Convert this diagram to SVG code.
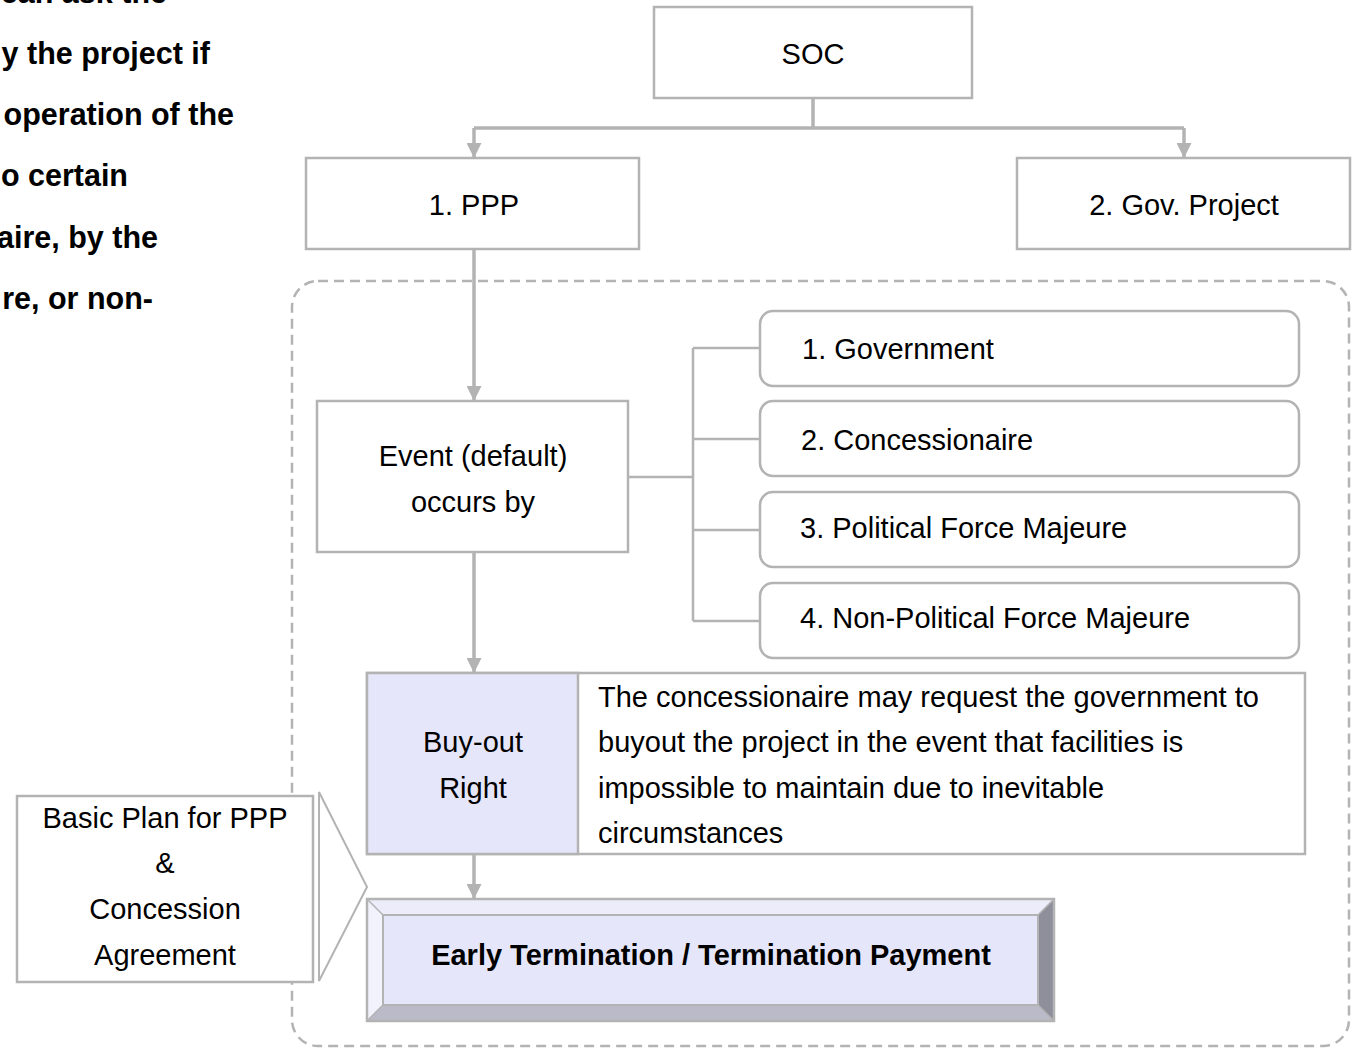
<svg xmlns="http://www.w3.org/2000/svg" width="1357" height="1049" viewBox="0 0 1357 1049">
<defs>
<style>
.t{font-family:"Liberation Sans",Arial,sans-serif;font-size:29px;fill:#000}
.c{text-anchor:middle}
.b{font-weight:bold}
.e{text-anchor:end}
.i{font-size:30.5px}
.box{fill:#fff;stroke:#b3b3b3;stroke-width:2.5}
.rbox{fill:#fff;stroke:#b3b3b3;stroke-width:2.5}
.ln{fill:none;stroke:#b3b3b3;stroke-width:3.5}
.br{fill:none;stroke:#b3b3b3;stroke-width:2.5}
</style>
<marker id="ah" markerUnits="userSpaceOnUse" viewBox="0 0 15 15" markerWidth="15" markerHeight="15" refX="15" refY="7.5" orient="auto">
<path d="M0,0 L15,7.5 L0,15 z" fill="#b3b3b3"/>
</marker>
</defs>
<rect width="1357" height="1049" fill="#fff"/>

<g id="intro-text">
<text class="t b e i" x="167" y="3">can ask the</text>
<text class="t b e i" x="210" y="64">y the project if</text>
<text class="t b e i" x="234" y="125">operation of the</text>
<text class="t b e i" x="128" y="186">o certain</text>
<text class="t b e i" x="158" y="248">aire, by the</text>
<text class="t b e i" x="153" y="309">re, or non-</text>
</g>

<g id="container">
<rect x="292" y="281" width="1057" height="765" rx="26" fill="none" stroke="#b3b3b3" stroke-width="2.5" stroke-dasharray="10,6"/>
</g>

<g id="connectors">
<path class="ln" d="M813,98 V128"/>
<path class="ln" d="M474,128 H1184"/>
<path class="ln" d="M474,128 V158" marker-end="url(#ah)"/>
<path class="ln" d="M1184,128 V158" marker-end="url(#ah)"/>
<path class="ln" d="M474,249 V401" marker-end="url(#ah)"/>
<path class="br" d="M628,477 H693"/>
<path class="br" d="M693,348 V621"/>
<path class="br" d="M693,348 H760"/>
<path class="br" d="M693,439 H760"/>
<path class="br" d="M693,530 H760"/>
<path class="br" d="M693,621 H760"/>
<path class="ln" d="M474,552 V673" marker-end="url(#ah)"/>
<path class="ln" d="M474,854 V899" marker-end="url(#ah)"/>
</g>

<g id="soc">
<rect class="box" x="654" y="7" width="318" height="91"/>
<text class="t c" x="813" y="64">SOC</text>
</g>

<g id="ppp">
<rect class="box" x="306" y="158" width="333" height="91"/>
<text class="t c" x="474" y="215">1. PPP</text>
</g>

<g id="gov-project">
<rect class="box" x="1017" y="158" width="333" height="91"/>
<text class="t c" x="1184" y="215">2. Gov. Project</text>
</g>

<g id="event">
<rect class="box" x="317" y="401" width="311" height="151"/>
<text class="t c" x="473" y="466">Event (default)</text>
<text class="t c" x="473" y="512">occurs by</text>
</g>

<g id="government">
<rect class="rbox" x="760" y="311" width="539" height="75" rx="13"/>
<text class="t" x="802" y="359">1. Government</text>
</g>
<g id="concessionaire">
<rect class="rbox" x="760" y="401" width="539" height="75" rx="13"/>
<text class="t" x="801" y="450">2. Concessionaire</text>
</g>
<g id="political-fm">
<rect class="rbox" x="760" y="492" width="539" height="75" rx="13"/>
<text class="t" x="800" y="538">3. Political Force Majeure</text>
</g>
<g id="non-political-fm">
<rect class="rbox" x="760" y="583" width="539" height="75" rx="13"/>
<text class="t" x="800" y="628">4. Non-Political Force Majeure</text>
</g>

<g id="buyout">
<rect x="367" y="673" width="938" height="181" fill="#fff" stroke="#b3b3b3" stroke-width="2.5"/>
<rect x="367" y="673" width="211" height="181" fill="#e6e6fa" stroke="#b3b3b3" stroke-width="2.5"/>
<text class="t c" x="473" y="752">Buy-out</text>
<text class="t c" x="473" y="798">Right</text>
<text class="t" x="598" y="707">The concessionaire may request the government to</text>
<text class="t" x="598" y="752">buyout the project in the event that facilities is</text>
<text class="t" x="598" y="798">impossible to maintain due to inevitable</text>
<text class="t" x="598" y="843">circumstances</text>
</g>

<g id="early-termination">
<rect x="367" y="899" width="687" height="122" fill="#e6e6fa"/>
<polygon points="367,899 1054,899 1038,915 383,915" fill="#ececfb"/>
<polygon points="367,899 383,915 383,1005 367,1021" fill="#f2f2fd"/>
<polygon points="1054,899 1054,1021 1038,1005 1038,915" fill="#8f8f9c"/>
<polygon points="367,1021 383,1005 1038,1005 1054,1021" fill="#babac9"/>
<rect x="383" y="915" width="655" height="90" fill="#e6e6fa" stroke="#b3b3b3" stroke-width="2"/>
<rect x="367" y="899" width="687" height="122" fill="none" stroke="#b3b3b3" stroke-width="2.5"/>
<path d="M367,899 L383,915 M1054,899 L1038,915 M367,1021 L383,1005 M1054,1021 L1038,1005" stroke="#b3b3b3" stroke-width="1.5"/>
<text class="t c b" x="711" y="965">Early Termination / Termination Payment</text>
</g>

<g id="basic-plan">
<rect class="box" x="17" y="796" width="296" height="186"/>
<polygon points="319,792 367,887 319,981" fill="#fff" stroke="#b3b3b3" stroke-width="2"/>
<text class="t c" x="165" y="828">Basic Plan for PPP</text>
<text class="t c" x="165" y="873">&amp;</text>
<text class="t c" x="165" y="919">Concession</text>
<text class="t c" x="165" y="965">Agreement</text>
</g>
</svg>
